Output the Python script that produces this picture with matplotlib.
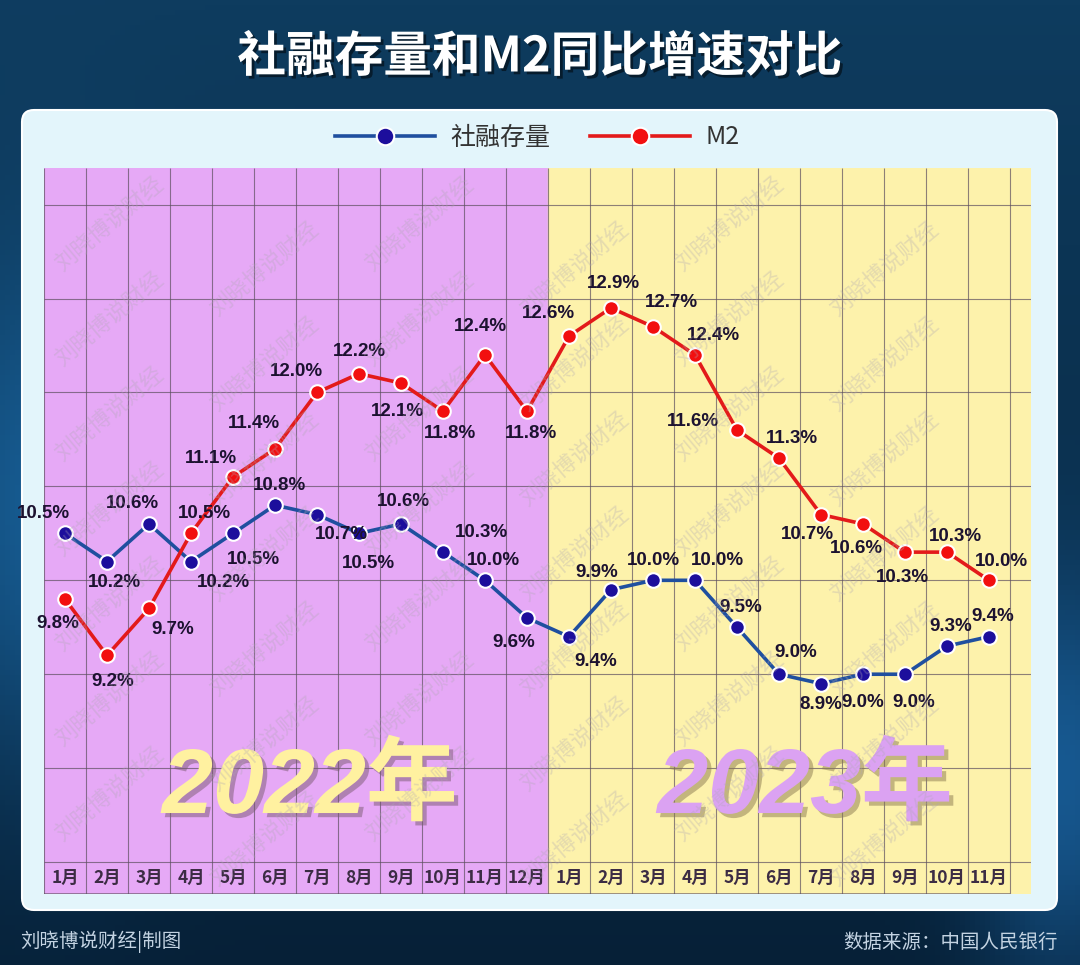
import numpy as np
import matplotlib.pyplot as plt
from matplotlib.patches import FancyBboxPatch
import matplotlib.patheffects as pe

plt.rcParams['font.family'] = ['Noto Sans CJK SC', 'DejaVu Sans']

# 数据：社融存量、M2 同比增速（%）
months = ['1月', '2月', '3月', '4月', '5月', '6月', '7月', '8月', '9月', '10月', '11月', '12月',
          '1月', '2月', '3月', '4月', '5月', '6月', '7月', '8月', '9月', '10月', '11月']
shrz = [10.5, 10.2, 10.6, 10.2, 10.5, 10.8, 10.7, 10.5, 10.6, 10.3, 10.0, 9.6,
        9.4, 9.9, 10.0, 10.0, 9.5, 9.0, 8.9, 9.0, 9.0, 9.3, 9.4]
m2 = [9.8, 9.2, 9.7, 10.5, 11.1, 11.4, 12.0, 12.2, 12.1, 11.8, 12.4, 11.8,
      12.6, 12.9, 12.7, 12.4, 11.6, 11.3, 10.7, 10.6, 10.3, 10.3, 10.0]
n_2022 = 12

# 标签相对数据点的偏移（像素，y向下）
off_shrz = [(-22, -20), (7, 21), (-17, -20), (32, 21), (20, 26), (5, -20), (24, 20), (9, 30),
            (2, -22), (38, -20), (8, -20), (-13, 25), (27, 25), (-14, -17), (0, -20), (22, -20),
            (4, -20), (17, -22), (0, 21), (0, 28), (9, 28), (4, -20), (4, -20)]
off_m2 = [(-7, 24), (6, 26), (24, 21), (13, -20), (-22, -18), (-21, -25), (-21, -21), (0, -22),
          (-4, 28), (7, 22), (-5, -28), (4, 22), (-21, -23), (2, -24), (18, -24), (18, -19),
          (-44, -9), (13, -20), (-14, 20), (-7, 25), (-3, 25), (8, -16), (12, -19)]

W, H = 1080, 965
fig = plt.figure(figsize=(W / 100, H / 100), dpi=100)

# 背景
bg = fig.add_axes([0, 0, 1, 1])
bg.set_xlim(0, W)
bg.set_ylim(H, 0)
bg.axis('off')
yy, xx = np.mgrid[0:H:5, 0:W:5]
top = np.array([14, 60, 95]) / 255
bot = np.array([6, 32, 55]) / 255
t = (yy / H)[..., None]
img = top * (1 - t) + bot * t
glow = np.exp(-(((xx - 40) / 120) ** 2 + ((yy - 520) / 260) ** 2))[..., None]
glow2 = np.exp(-(((xx - 1060) / 90) ** 2 + ((yy - 780) / 200) ** 2))[..., None]
img = img + glow * np.array([0.05, 0.18, 0.28]) + glow2 * np.array([0.06, 0.2, 0.32])
bg.imshow(np.clip(img, 0, 1), extent=(0, W, H, 0), aspect='auto', zorder=0)
bg.add_patch(FancyBboxPatch((22, 110), 1035, 800, boxstyle='round,pad=0,rounding_size=12',
                            facecolor='#e3f5fb', edgecolor='white', lw=1.5, zorder=1))

fig.text(0.5, 1 - 57 / H, '社融存量和M2同比增速对比', ha='center', va='center', color='white',
         fontsize=35, fontweight='black',
         path_effects=[pe.withSimplePatchShadow(offset=(2, -2), shadow_rgbFace='#000000', alpha=0.5)])
fig.text(20 / W, 1 - 942 / H, '刘晓博说财经|制图', ha='left', va='center', color='#c3d3e2', fontsize=14)
fig.text(1058 / W, 1 - 942 / H, '数据来源：中国人民银行', ha='right', va='center', color='#c3d3e2', fontsize=14)

# 主图
ax = fig.add_axes([44 / W, 1 - 894 / H, 987 / W, 726 / H])
ax.set_xlim(-0.5, 23.0)
ax.set_ylim(6.66, 14.39)
ax.axis('off')
ax.axvspan(-0.5, n_2022 - 0.5, color='#e6a9f6', zorder=0)
ax.axvspan(n_2022 - 0.5, 23.0, color='#fdf2ab', zorder=0)
ax.hlines(np.arange(7, 15), -0.5, 23.0, color='#5e5060', lw=0.8, alpha=0.7, zorder=1)
ax.hlines(6.66, -0.5, 22.5, color='#5e5060', lw=1.2, alpha=0.7, zorder=1)
ax.vlines(np.arange(-0.5, 23, 1), 6.66, 14.39, color='#5e5060', lw=0.8, alpha=0.7, zorder=1)

x = np.arange(len(months))
for i, m in enumerate(months):
    ax.text(x[i], 6.83, m, ha='center', va='center', fontsize=12.5, fontweight='bold', color='#3c2c44', zorder=2)

ax.text(5.83, 7.78, '2022年', ha='center', va='center', fontsize=66, fontweight='bold', fontstyle='italic',
        family=['Liberation Sans', 'Noto Sans CJK SC'], color='#fff1a0', zorder=2,
        path_effects=[pe.withSimplePatchShadow(offset=(3, -3), shadow_rgbFace='#7a5a70', alpha=0.5)])
ax.text(17.62, 7.78, '2023年', ha='center', va='center', fontsize=66, fontweight='bold', fontstyle='italic',
        family=['Liberation Sans', 'Noto Sans CJK SC'], color='#dba2f2', zorder=2,
        path_effects=[pe.withSimplePatchShadow(offset=(3, -3), shadow_rgbFace='#8a7a50', alpha=0.5)])

l1, = ax.plot(x, shrz, color='#1f4f9f', lw=2.6, marker='o', ms=10.5, mfc='#1c0e9c', mec='white', mew=1.5,
              zorder=4, label='社融存量')
l2, = ax.plot(x, m2, color='#e31a1a', lw=2.6, marker='o', ms=10.5, mfc='#f20f0f', mec='white', mew=1.5,
              zorder=4, label='M2')

for vals, offs in ((shrz, off_shrz), (m2, off_m2)):
    for i, v in enumerate(vals):
        ax.annotate(f'{v:.1f}%', (x[i], v), xytext=(offs[i][0] * 0.72, -offs[i][1] * 0.72),
                    textcoords='offset points', ha='center', va='center', fontsize=13.5,
                    fontweight='bold', family=['Liberation Sans'], color='#1c1230', zorder=5)

leg = ax.legend(handles=[l1, l2], loc='lower center', bbox_to_anchor=(0.5, 1.0), ncol=2, frameon=False,
                fontsize=18, handlelength=4, handletextpad=0.6, columnspacing=1.6, markerscale=1.2,
                borderaxespad=0.3)
for txt in leg.get_texts():
    txt.set_color('#333333')

# 水印（只放在图内）
for k, cx in enumerate(range(110, 1000, 155)):
    shift = 45 if k % 2 else 0
    for cy in range(225 + shift, 850, 95):
        ax.text((cx - 44) / 42 - 0.5, 14 - (cy - 205) / 94, '刘晓博说财经', rotation=40, ha='center',
                va='center', fontsize=16, color='#b0a8b4', alpha=0.32, zorder=6)

fig.savefig('out.png', dpi=100)
